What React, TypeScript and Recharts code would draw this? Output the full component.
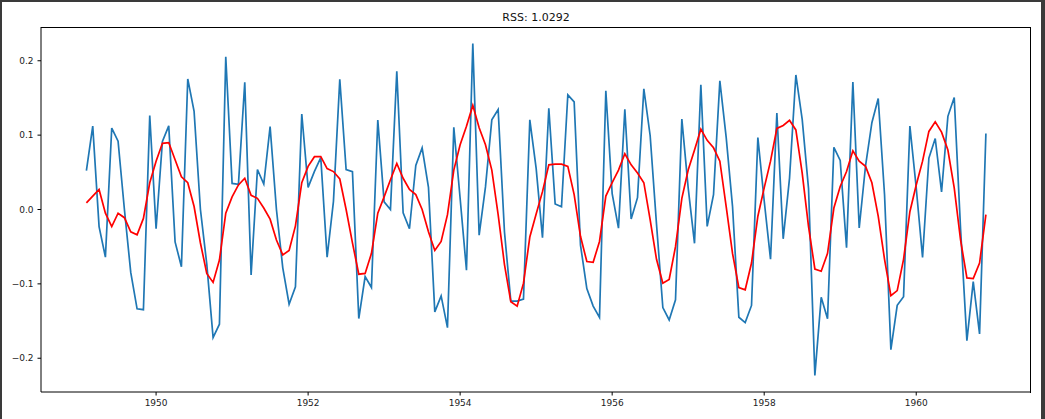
import { Line, LineChart, XAxis, YAxis } from "recharts";

const title = "RSS: 1.0292";
const startYear = 1949;
const startMonth = 1; // Feb (0-based)

// first difference of log passengers, Feb 1949 .. Dec 1960
const logDiff = [
  0.0522, 0.1121, -0.023, -0.064, 0.1095, 0.0919, 0, -0.0846, -0.1335, -0.1347, 0.1263,
  -0.0258, 0.0914, 0.1125, -0.0435, -0.077, 0.1756, 0.1319, 0, -0.0732, -0.1723, -0.1542, 0.2054,
  0.0351, 0.0339, 0.1712, -0.088, 0.0538, 0.0343, 0.1115, 0, -0.0784, -0.1273, -0.104, 0.1284,
  0.0297, 0.0513, 0.0697, -0.0642, 0.011, 0.175, 0.0536, 0.0509, -0.1466, -0.0901, -0.1048, 0.1204,
  0.0103, 0, 0.1857, -0.0043, -0.0259, 0.0593, 0.0829, 0.0299, -0.1377, -0.1162, -0.1589, 0.1104,
  0.0148, -0.0817, 0.2231, -0.0346, 0.0304, 0.1206, 0.1345, -0.0303, -0.1233, -0.1231, -0.1205, 0.1205,
  0.0552, -0.0379, 0.1362, 0.0075, 0.0037, 0.1542, 0.1446, -0.0478, -0.1063, -0.1299, -0.1451, 0.1596,
  0.0214, -0.025, 0.1349, -0.0127, 0.0159, 0.1622, 0.0992, -0.0196, -0.1318, -0.1485, -0.1215, 0.1215,
  0.029, -0.0455, 0.1678, -0.0227, 0.0199, 0.1729, 0.097, 0.0043, -0.1449, -0.1521, -0.129, 0.0968,
  0.0118, -0.0669, 0.1296, -0.0394, 0.0422, 0.1809, 0.1211, 0.0281, -0.2231, -0.1181, -0.1468, 0.0835,
  0.066, -0.0513, 0.1715, -0.0249, 0.0588, 0.1167, 0.1493, 0.0199, -0.1884, -0.1289, -0.1172, 0.1122,
  0.0292, -0.0644, 0.0692, 0.0955, 0.0236, 0.1253, 0.1507, -0.0261, -0.1764, -0.0971, -0.1673, 0.1023,
];

// ARIMA fitted values, same months
const fitted = [
  0.009, 0.018, 0.027, -0.005, -0.023, -0.005, -0.011, -0.03, -0.034, -0.012, 0.036, 0.065,
  0.089, 0.09, 0.067, 0.044, 0.036, 0.004, -0.045, -0.086, -0.098, -0.068, -0.005, 0.017,
  0.033, 0.042, 0.019, 0.015, 0.002, -0.013, -0.041, -0.061, -0.055, -0.022, 0.036, 0.058,
  0.071, 0.071, 0.055, 0.051, 0.041, 0.0, -0.045, -0.087, -0.086, -0.059, -0.005, 0.017,
  0.04, 0.062, 0.042, 0.027, 0.02, 0.0, -0.03, -0.055, -0.043, -0.007, 0.053, 0.087,
  0.112, 0.14, 0.11, 0.087, 0.053, -0.007, -0.074, -0.124, -0.13, -0.099, -0.037, -0.006,
  0.024, 0.06, 0.061, 0.061, 0.058, 0.02, -0.036, -0.07, -0.071, -0.043, 0.018, 0.036,
  0.053, 0.075, 0.06, 0.049, 0.036, -0.014, -0.067, -0.099, -0.094, -0.05, 0.015, 0.053,
  0.08, 0.108, 0.093, 0.083, 0.065, 0.004, -0.059, -0.105, -0.108, -0.072, -0.009, 0.029,
  0.065, 0.109, 0.113, 0.12, 0.107, 0.049, -0.023, -0.08, -0.083, -0.059, 0.002, 0.031,
  0.051, 0.079, 0.065, 0.058, 0.036, -0.009, -0.067, -0.116, -0.109, -0.067, -0.003, 0.033,
  0.065, 0.105, 0.118, 0.104, 0.08, 0.029, -0.041, -0.092, -0.093, -0.072, -0.007,
];

const xTicks = [1950, 1952, 1954, 1956, 1958, 1960];
const yTicks = [-0.2, -0.1, 0, 0.1, 0.2];

const data = logDiff.map((v, i) => ({
  t: startYear + (startMonth + i) / 12,
  diff: v,
  fitted: fitted[i],
}));

const tickStyle = { fontSize: 9, fill: "#222", fontFamily: "DejaVu Sans" };
const fmtY = (v: number) => v.toFixed(1).replace("-", "\u2212");

export default function App() {
  return (
    <div
      style={{
        position: "absolute",
        left: 0,
        top: 0,
        width: 1045,
        height: 419,
        background: "#fff",
        overflow: "hidden",
      }}
    >
      <div style={{ position: "absolute", left: 0, top: 0, width: 2, height: 419, background: "#3a3a3a" }} />
      <div style={{ position: "absolute", left: 0, top: 0, width: 1045, height: 2, background: "#3a3a3a" }} />
      <div style={{ position: "absolute", left: 1041, top: 0, width: 4, height: 419, background: "#3a3a3a" }} />
      <div
        style={{
          position: "absolute",
          left: 0,
          top: 10,
          width: 1072,
          textAlign: "center",
          fontFamily: "DejaVu Sans",
          fontSize: 11,
          color: "#111",
          lineHeight: "15px",
        }}
      >
        {title}
      </div>
      <LineChart
        width={1045}
        height={419}
        data={data}
        margin={{ top: 27, right: 14, bottom: 5, left: 0 }}
        style={{ position: "absolute", left: 0, top: 0 }}
      >
        <XAxis
          dataKey="t"
          type="number"
          domain={[1948.486, 1961.51]}
          ticks={xTicks}
          allowDataOverflow
          height={22}
          tickSize={3.5}
          tickMargin={4}
          tick={tickStyle}
          stroke="#000"
        />
        <YAxis
          type="number"
          domain={[-0.2454, 0.2454]}
          ticks={yTicks}
          allowDataOverflow
          width={41}
          tickSize={3.5}
          tickMargin={4}
          tick={tickStyle}
          tickFormatter={fmtY}
          stroke="#000"
        />
        <Line
          type="linear"
          dataKey="diff"
          stroke="#1f77b4"
          strokeWidth={1.7}
          dot={false}
          isAnimationActive={false}
        />
        <Line
          type="linear"
          dataKey="fitted"
          stroke="#ff0000"
          strokeWidth={1.7}
          dot={false}
          isAnimationActive={false}
        />
      </LineChart>
      {/* top and right spines of the axes box */}
      <div
        style={{
          position: "absolute",
          left: 41,
          top: 27,
          width: 989,
          height: 365,
          borderTop: "1px solid #000",
          borderRight: "1px solid #000",
          pointerEvents: "none",
        }}
      />
    </div>
  );
}
